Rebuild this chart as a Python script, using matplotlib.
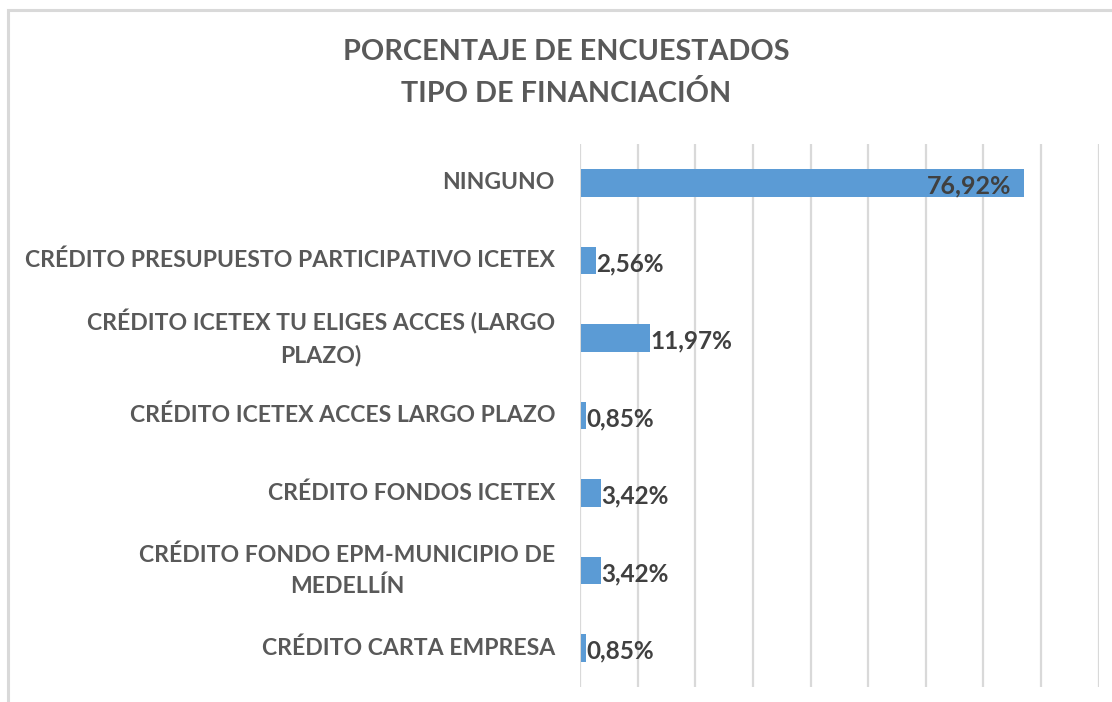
import matplotlib
matplotlib.use("Agg")
import matplotlib.pyplot as plt
from matplotlib.patches import Rectangle

categories = [
    "NINGUNO",
    "CRÉDITO PRESUPUESTO PARTICIPATIVO ICETEX",
    "CRÉDITO ICETEX TU ELIGES ACCES (LARGO\nPLAZO)",
    "CRÉDITO ICETEX ACCES LARGO PLAZO",
    "CRÉDITO FONDOS ICETEX",
    "CRÉDITO FONDO EPM-MUNICIPIO DE\nMEDELLÍN",
    "CRÉDITO CARTA EMPRESA",
]
values = [76.92, 2.56, 11.97, 0.85, 3.42, 3.42, 0.85]
value_labels = ["76,92%", "2,56%", "11,97%", "0,85%", "3,42%", "3,42%", "0,85%"]
title_lines = ["PORCENTAJE DE ENCUESTADOS", "TIPO DE FINANCIACIÓN"]

W, H = 1112, 702
FONT = ["Lato", "DejaVu Sans"]
plt.rcParams["font.family"] = FONT

fig = plt.figure(figsize=(W / 100, H / 100), dpi=100)
fig.patch.set_facecolor("white")

# outer chart border (top and left visible)
fig.patches.append(Rectangle((8 / W, -0.5), 2.0, 1.5 - 10 / H, transform=fig.transFigure,
                             fill=False, edgecolor="#D9D9D9", linewidth=2.2, zorder=0))

left, right = 580 / W, 1098.7 / W
top, bottom = 1 - 144 / H, 1 - 687 / H
ax = fig.add_axes([left, bottom, right - left, top - bottom])

n = len(categories)
ypos = list(range(n))
ax.barh(ypos, values, height=0.355, color="#5B9BD5", zorder=3, left=0.15)
ax.set_xlim(0, 90)
ax.set_ylim(n - 0.5, -0.5)
ax.set_xticks(range(0, 91, 10))
ax.xaxis.grid(True, color="#D9D9D9", linewidth=1.6, zorder=0)
ax.tick_params(axis="x", length=0, labelbottom=False)
ax.tick_params(axis="y", length=0, labelleft=False)
ax.set_yticks(ypos)
for s in ax.spines.values():
    s.set_visible(False)

ytrans = ax.get_yaxis_transform()
label_x = -25 / (1098.7 - 580)
for y, cat in zip(ypos, categories):
    ax.text(label_x, y, cat, transform=ytrans, ha="right", va="center",
            multialignment="center", linespacing=1.55, fontsize=16.6,
            fontweight="bold", color="#595959")

for y, v, lab in zip(ypos, values, value_labels):
    if v > 50:
        ax.text(v - 2.0, y + 0.04, lab, ha="right", va="center", fontsize=18,
                fontweight="bold", color="#404040", zorder=4)
    else:
        ax.text(v + 0.3, y + 0.04, lab, ha="left", va="center", fontsize=17.5,
                fontweight="bold", color="#404040", zorder=4)

fig.text(566.5 / W, 1 - 52 / H, title_lines[0], ha="center", va="center",
         fontsize=20.7, fontweight="bold", color="#595959")
fig.text(566.5 / W, 1 - 93 / H, title_lines[1], ha="center", va="center",
         fontsize=20.7, fontweight="bold", color="#595959")

fig.savefig("out.png", dpi=100, facecolor="white")
